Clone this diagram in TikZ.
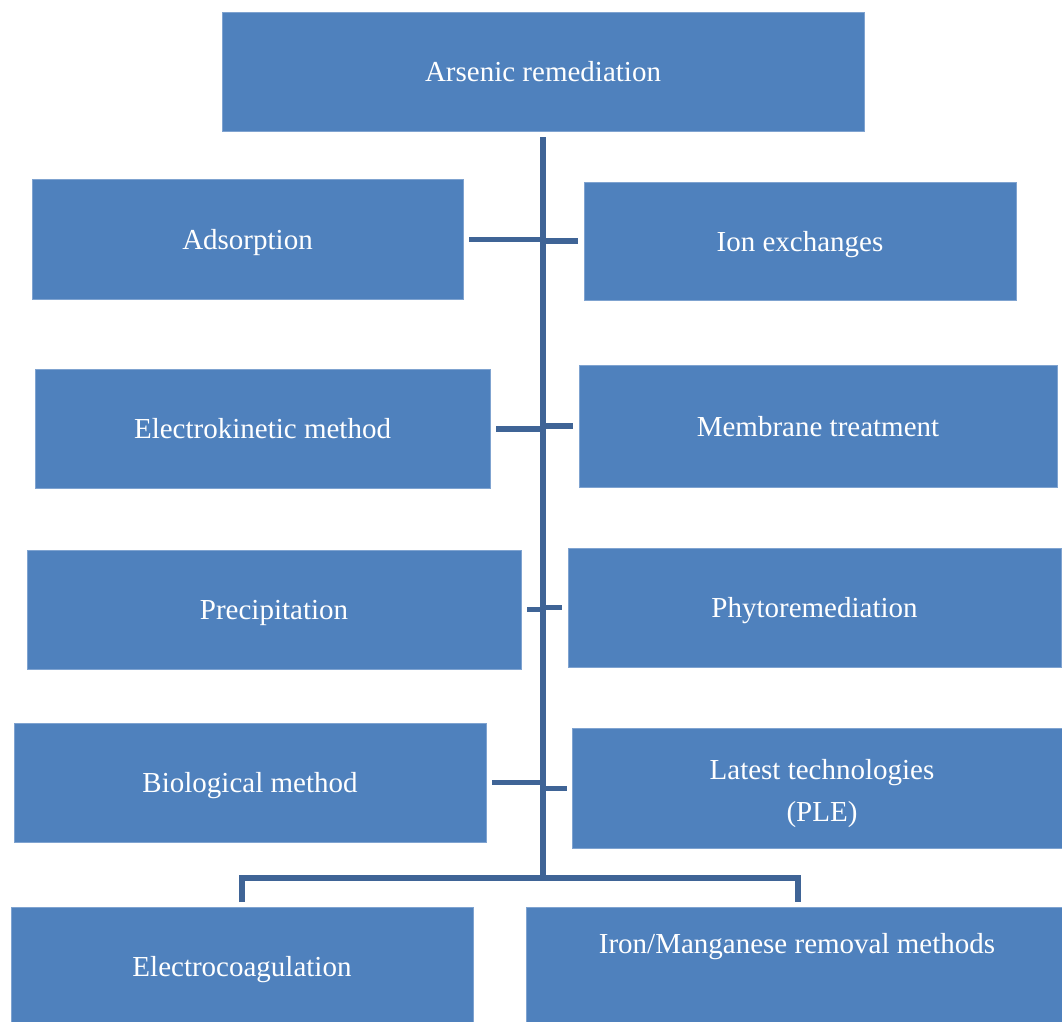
\documentclass[tikz,border=0pt]{standalone}
\usepackage{fontspec}
\setmainfont{Liberation Serif}
\definecolor{boxblue}{HTML}{4F81BD}
\definecolor{boxedge}{HTML}{7FA3D0}
\definecolor{linkblue}{HTML}{3F6496}
\tikzset{
  box/.style={rectangle, fill=boxblue, draw=boxedge, line width=0.8pt, inner sep=0pt},
  txt/.style={inner sep=0pt, text=white, font=\fontsize{29}{42}\selectfont, align=center},
  oneline/.style={txt, text height=20pt, text depth=0pt},
  link/.style={draw=linkblue, line width=5.5pt, line cap=butt, line join=miter},
}
\newcommand{\bx}[6]{% name, x1, y1, x2, y2, text
  \node[box, minimum width={#4-#2}, minimum height={#5-#3}] (#1) at ({(#2+#4)/2},{(#3+#5)/2}) {};
  \node[oneline] (#1-t) at (#1.center) {#6};}
\begin{document}
\begin{tikzpicture}[x=1pt,y=-1pt]
\useasboundingbox (0,0) rectangle (1062,1021);
\clip (0,0) rectangle (1062,1021);
\fill[white] (0,0) rectangle (1062,1021);
% boxes
\bx{root}{222}{12}{864}{131}{Arsenic remediation}
\bx{ads}{32}{179}{463}{299}{Adsorption}
\bx{ion}{584}{182}{1016}{300}{Ion exchanges}
\bx{ek}{35}{369}{490}{488}{Electrokinetic method}
\bx{mem}{579}{365}{1057}{487}{Membrane treatment}
\bx{prec}{27}{550}{521}{669}{Precipitation}
\bx{phyto}{568}{548}{1061}{667}{Phytoremediation}
\bx{bio}{14}{723}{486}{842}{Biological method}
\bx{latest}{572}{728}{1066}{848}{}
\node[txt] (latest-t) at (822,793.5) {Latest technologies\\(PLE)};
\bx{ec}{11}{907}{473}{1025}{Electrocoagulation}
\bx{iron}{526}{907}{1068}{1040}{}
\node[txt] (iron-t) at (797,946.5) {Iron/Manganese removal methods};
% connector points
\coordinate (tTop) at (543,137);
\coordinate (tBot) at (543,878);
\coordinate (dL) at (242,902);
\coordinate (dR) at (798,902);
\coordinate (a1) at (469,239.5); \coordinate (a0) at (543,239.5);
\coordinate (b1) at (578,241);   \coordinate (b0) at (543,241);
\coordinate (c1) at (496,429);   \coordinate (c0) at (543,429);
\coordinate (d1) at (573,426);   \coordinate (d0) at (543,426);
\coordinate (e1) at (527,609.5); \coordinate (e0) at (543,609.5);
\coordinate (f1) at (562,607.5); \coordinate (f0) at (543,607.5);
\coordinate (g1) at (492,782.5); \coordinate (g0) at (543,782.5);
\coordinate (h1) at (567,788.5); \coordinate (h0) at (543,788.5);
% connectors
\draw[link, line width=6pt] (tTop) -- (tBot);
\draw[link] (dL) |- (tBot) -| (dR);
\draw[link] (a1) -- (a0);
\draw[link] (b0) -- (b1);
\draw[link] (c1) -- (c0);
\draw[link] (d0) -- (d1);
\draw[link] (e1) -- (e0);
\draw[link] (f0) -- (f1);
\draw[link] (g1) -- (g0);
\draw[link] (h0) -- (h1);
\end{tikzpicture}
\end{document}
